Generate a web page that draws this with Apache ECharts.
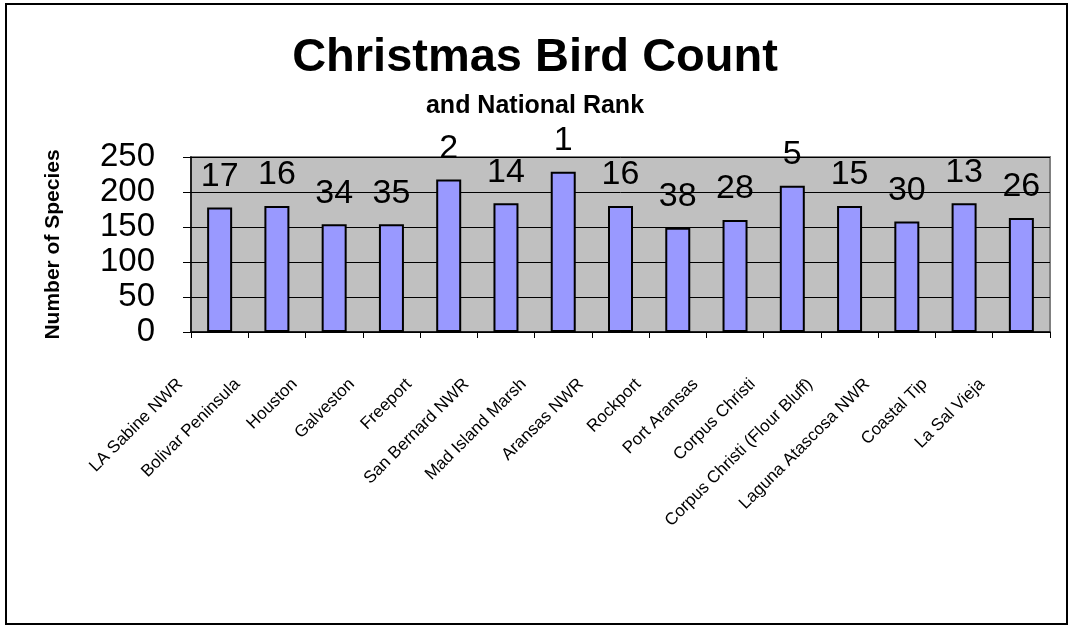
<!DOCTYPE html>
<html>
<head>
<meta charset="utf-8">
<script src="https://cdn.jsdelivr.net/npm/echarts@6/dist/echarts.min.js"></script>
<style>html,body{margin:0;padding:0;background:#fff;}#chart{width:1070px;height:626px;}</style>
</head>
<body>
<div id="chart"></div>
<script>
var categories = ["LA Sabine NWR","Bolivar Peninsula","Houston","Galveston","Freeport","San Bernard NWR","Mad Island Marsh","Aransas NWR","Rockport","Port Aransas","Corpus Christi","Corpus Christi (Flour Bluff)","Laguna Atascosa NWR","Coastal Tip","La Sal Vieja"];
var species = [178, 180, 154, 154, 218, 184, 229, 180, 149, 160, 209, 180, 158, 184, 163];
var ranks = [17, 16, 34, 35, 2, 14, 1, 16, 38, 28, 5, 15, 30, 13, 26];
var yTicks = [0, 50, 100, 150, 200, 250];

var chart = echarts.init(document.getElementById('chart'), null, {renderer: 'canvas'});
var font = 'Arial, "Liberation Sans", sans-serif';
chart.setOption({
  animation: false,
  backgroundColor: '#ffffff',
  textStyle: {fontFamily: font},
  title: [
    {text: 'Christmas Bird Count', left: 'center', top: 30,
     textStyle: {fontSize: 47, fontWeight: 'bold', color: '#000', fontFamily: font}},
    {text: 'and National Rank', left: 'center', top: 89,
     textStyle: {fontSize: 25, fontWeight: 'bold', color: '#000', fontFamily: font}}
  ],
  graphic: [{
    type: 'rect', shape: {x: 6, y: 4, width: 1061, height: 620},
    style: {fill: 'none', stroke: '#000', lineWidth: 2}, silent: true
  }],
  grid: {left: 191, right: 20, top: 157, bottom: 294, show: true,
    backgroundColor: '#C0C0C0', borderColor: '#808080', borderWidth: 2},
  xAxis: {
    type: 'category', data: categories,
    axisLine: {lineStyle: {color: '#000', width: 1.5}},
    axisTick: {show: true, length: 6, lineStyle: {color: '#000'}},
    axisLabel: {rotate: 45, fontSize: 17, color: '#000', margin: 10, padding: [0, 56, 0, 0], interval: 0, fontFamily: font}
  },
  yAxis: {
    type: 'value', min: yTicks[0], max: yTicks[yTicks.length - 1], interval: 50,
    name: 'Number of Species', nameLocation: 'middle', nameRotate: 90, nameGap: 127,
    nameTextStyle: {fontSize: 21, fontWeight: 'bold', color: '#000', fontFamily: font},
    axisLine: {show: true, lineStyle: {color: '#000', width: 1.5}},
    axisTick: {show: true, inside: false, length: 8, lineStyle: {color: '#000'}},
    splitLine: {show: true, lineStyle: {color: '#000', width: 1}},
    axisLabel: {fontSize: 33, color: '#000', margin: 36, fontFamily: font}
  },
  series: [{
    type: 'bar', data: species, barWidth: 25,
    itemStyle: {color: '#9999FF', borderColor: '#000', borderWidth: 2},
    label: {show: true, position: 'top', distance: 14, fontSize: 34, color: '#000', fontFamily: font,
      formatter: function (p) { return String(ranks[p.dataIndex]); }}
  }]
});
</script>
</body>
</html>
